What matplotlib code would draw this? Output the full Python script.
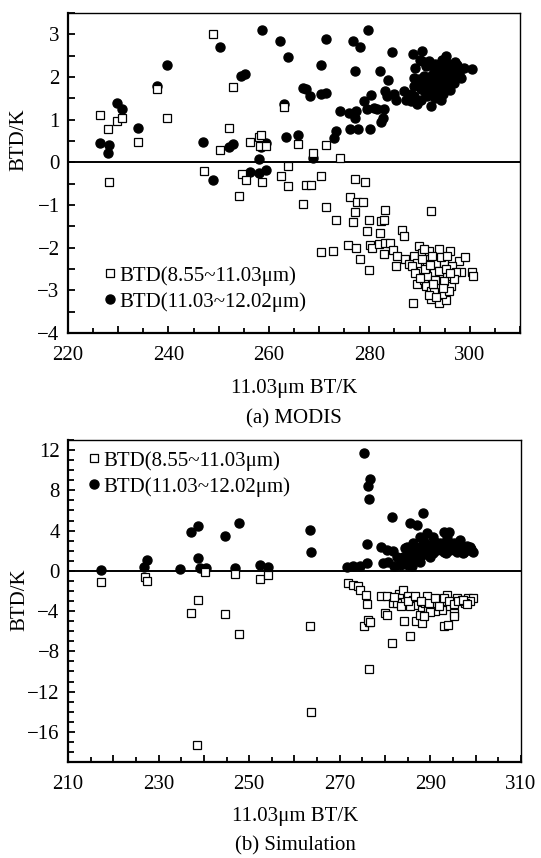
import matplotlib
matplotlib.use("Agg")
import matplotlib.pyplot as plt
from matplotlib.ticker import MultipleLocator, FuncFormatter
from matplotlib.lines import Line2D

plt.rcParams['font.family'] = ['Liberation Serif', 'DejaVu Serif']

# (a) MODIS - BTD(8.55~11.03um), squares
modis_sq_x = [248.9, 252.9, 237.7, 226.4, 228.0, 229.7, 230.7, 239.7, 233.9, 263.0, 252.0, 250.3,
              256.2, 258.1, 258.5, 258.2, 259.5, 265.7, 271.3, 268.7, 274.2,
              228.2, 247.0, 254.6, 255.4, 258.7, 254.0, 262.4, 263.8, 263.9, 267.3, 268.3, 270.4,
              277.2, 279.1, 266.7, 271.3, 276.2, 277.5, 278.7, 277.2, 283.1, 292.2, 273.4, 276.7,
              280.0, 282.4, 282.9, 279.5, 282.1, 286.5, 287.0, 275.7, 277.4, 280.2, 280.5, 281.9,
              283.1, 284.1, 282.9, 284.7, 285.5, 285.4, 270.4, 272.7, 278.2, 279.9, 288.7,
              287.1, 287.9, 288.9, 289.9, 290.5, 291.9, 293.9, 296.1, 297.9, 299.0, 298.2, 300.5,
              300.7, 289.4, 290.9, 291.2, 292.2, 292.2, 293.9, 295.2, 294.5, 296.2, 294.2, 295.5,
              292.9, 290.2, 289.5, 291.5, 293.2, 294.9, 296.5, 297.2, 291.5, 293.5, 295.9, 292.9,
              290.5, 292.5, 294.2, 295.5, 290.9, 288.5, 294.9, 296.9,
              289.0, 290.0, 291.0, 292.0, 293.0, 293.8, 294.6, 295.2, 296.0, 292.6, 291.8, 293.2]
modis_sq_y = [3.00, 1.76, 1.73, 1.12, 0.78, 0.97, 1.03, 1.03, 0.47, 1.30, 0.80, 0.28,
              0.47, 0.60, 0.65, 0.38, 0.38, 0.42, 0.40, 0.21, 0.09,
              -0.47, -0.20, -0.27, -0.41, -0.45, -0.78, -0.33, -0.09, -0.55, -0.52, -0.52, -0.32,
              -0.40, -0.46, -0.98, -1.04, -0.81, -0.94, -0.92, -1.16, -1.12, -1.15, -1.34, -1.39,
              -1.34, -1.37, -1.36, -1.61, -1.65, -1.59, -1.73, -1.94, -2.00, -1.94, -2.00, -1.92,
              -1.90, -1.88, -2.16, -2.06, -2.19, -2.43, -2.10, -2.08, -2.27, -2.52, -3.30,
              -2.27, -2.39, -2.19, -1.96, -2.12, -2.08, -2.04, -2.08, -2.31, -2.22, -2.56, -2.56,
              -2.66, -2.86, -2.76, -2.90, -3.01, -3.21, -3.30, -3.22, -3.09, -2.90, -2.78, -2.66,
              -2.58, -2.51, -2.35, -2.39, -2.35, -2.35, -2.43, -2.58, -2.66, -2.90, -3.01, -3.05,
              -2.27, -2.19, -2.23, -2.19, -2.04, -2.43, -2.78, -2.74,
              -2.60, -2.70, -2.50, -2.40, -2.75, -2.55, -2.95, -2.50, -2.60, -2.85, -3.10, -3.15]

# (a) MODIS - BTD(11.03~12.02um), filled circles
modis_ci_x = [226.3, 228.2, 228.0, 229.7, 230.7, 233.9, 237.7, 239.7, 246.9, 248.9, 250.2, 252.1,
              252.9, 254.5, 255.3, 256.2, 258.1, 259.5, 258.1, 258.5, 259.5, 258.7, 262.3, 263.8,
              263.0, 263.5, 265.7, 266.7, 267.3, 268.1, 268.7, 270.4, 270.4, 271.4, 271.3, 272.9,
              273.3, 274.1, 275.9, 276.2, 276.7, 277.1, 277.2, 277.4, 277.7, 278.2, 279.0, 279.7,
              280.1, 280.4, 282.1, 283.7, 284.5,
              279.5, 280.9, 281.5, 282.9, 282.4, 282.7, 283.1, 283.5, 284.9, 285.4, 286.9, 287.4,
              288.2, 288.9, 289.5, 290.2, 292.2, 294.2, 288.9, 288.7, 290.5, 291.9, 292.9, 294.2,
              295.3, 295.5, 297.5, 298.9, 300.5, 298.2, 296.9, 295.5, 294.2, 291.5, 290.2, 289.5,
              290.9, 292.2, 293.5, 294.9, 296.2, 292.9, 294.2, 291.2, 293.5, 294.9, 296.9, 290.5,
              288.9, 288.2, 291.5, 295.9, 292.9, 294.9,
              289.0, 290.0, 291.0, 291.5, 292.0, 292.5, 293.0, 293.5, 294.0, 294.5, 295.0, 295.8,
              296.5, 297.0, 297.8, 293.0, 291.0, 289.8, 290.7, 292.8, 294.6, 296.0]
modis_ci_y = [0.45, 0.40, 0.23, 1.40, 1.26, 0.80, 1.80, 2.28, 0.47, -0.42, 2.71, 0.35,
              0.44, 2.02, 2.08, -0.22, -0.26, -0.19, 0.08, 0.36, 0.45, 3.11, 2.85, 2.47,
              1.37, 0.59, 0.65, 1.74, 1.71, 1.55, 0.09, 2.28, 1.59, 1.63, 2.90, 0.58,
              0.73, 1.20, 1.15, 0.79, 2.84, 2.14, 1.04, 1.20, 0.77, 2.71, 1.43, 3.10,
              0.79, 1.58, 2.14, 1.93, 2.59,
              1.24, 1.28, 1.24, 1.24, 0.95, 1.04, 1.67, 1.55, 1.61, 1.47, 1.67, 1.47,
              1.43, 1.55, 1.36, 1.47, 1.32, 1.47, 1.98, 2.53, 2.61, 2.37, 2.18, 2.29,
              2.49, 2.33, 2.29, 2.22, 2.18, 1.98, 1.86, 1.71, 1.63, 1.55, 1.71, 1.86,
              2.02, 1.94, 1.94, 2.02, 2.10, 1.75, 1.83, 2.25, 2.14, 2.18, 2.14, 2.37,
              1.79, 1.59, 1.79, 1.86, 1.55, 1.79,
              2.20, 2.40, 2.00, 2.30, 1.70, 2.05, 2.30, 1.75, 2.05, 2.40, 1.90, 2.20,
              2.00, 2.35, 2.10, 1.50, 1.65, 1.95, 1.85, 1.95, 1.60, 1.70]

# (b) Simulation - BTD(8.55~11.03um), squares
sim_sq_x = [217.2, 227.0, 227.5, 240.2, 238.6, 237.1, 244.6, 247.8, 246.9, 252.3, 254.2, 263.4,
            263.6, 238.4, 275.3, 276.4, 276.5, 281.5, 285.5, 284.2, 286.8, 288.1, 293.0, 293.9,
            271.7, 273.0, 274.1, 274.5, 275.8, 276.0, 280.0, 280.4, 276.3, 276.7,
            279.2, 280.4, 281.8, 283.0, 284.0, 285.1, 286.2, 287.0, 288.1, 288.8, 289.5, 290.3,
            291.4, 292.5, 293.2, 294.3, 295.1, 295.8, 296.9, 298.4, 299.5, 298.7, 287.7, 295.1,
            291.0, 285.5, 293.6, 289.2, 282.6, 297.6,
            282.0, 283.5, 285.0, 286.5, 288.0, 289.8, 291.0, 292.0, 293.0, 294.0, 295.2, 296.2,
            297.2, 298.0, 290.0, 288.5]
sim_sq_y = [-1.16, -0.63, -0.99, -0.07, -2.9, -4.22, -4.29, -6.27, -0.30, -0.79, -0.43, -5.45,
            -14.0, -17.3, -5.45, -5.12, -9.8, -7.16, -6.5, -5.0, -5.0, -5.2, -5.45, -5.35,
            -1.22, -1.39, -1.49, -1.88, -2.38, -3.27, -4.19, -4.36, -4.85, -5.12,
            -2.54, -2.48, -3.2, -2.28, -1.88, -2.54, -2.87, -3.37, -3.86, -3.2, -3.7, -2.87,
            -3.37, -3.86, -3.04, -3.53, -4.19, -2.71, -2.87, -2.71, -2.71, -3.04, -4.36, -4.52,
            -4.03, -3.47, -2.38, -2.54, -3.2, -3.2,
            -2.6, -3.5, -3.0, -2.5, -3.0, -3.2, -2.7, -3.5, -2.7, -3.0, -3.3, -3.0,
            -2.9, -3.3, -4.1, -4.5]

# (b) Simulation - BTD(11.03~12.02um), filled circles
sim_ci_x = [217.2, 226.8, 227.5, 234.7, 237.1, 238.6, 238.6, 239.1, 240.4, 244.6, 246.9, 247.8,
            252.3, 254.2, 263.4, 263.6, 275.3, 276.7, 276.3, 276.5, 281.5, 288.3, 285.5, 287.0,
            276.0, 271.5, 273.0, 274.5, 276.0, 279.2, 280.4, 281.8, 279.6, 280.7, 283.3, 284.0,
            284.4, 282.6, 286.2, 287.7, 289.2, 292.9, 294.2, 296.5, 298.7, 299.5,
            284.8, 285.5, 286.6, 287.7, 288.8, 289.9, 291.0, 292.1, 293.6, 295.1, 296.2, 297.6,
            298.7, 286.2, 288.1, 289.5, 291.4, 292.9, 294.3, 295.8, 297.3, 287.7, 285.1, 289.2,
            292.1, 295.1, 290.6, 293.6, 288.4, 284.8,
            285.5, 286.5, 287.5, 288.5, 289.5, 290.5, 291.5, 292.5, 293.5, 294.5, 295.5, 296.5,
            297.5, 298.0, 290.0, 288.0, 291.0, 293.0, 296.0, 299.0, 284.0, 282.0, 286.0]
sim_ci_y = [0.1, 0.33, 1.09, 0.20, 3.89, 4.48, 1.25, 0.26, 0.26, 3.46, 0.26, 4.75,
            0.59, 0.33, 4.1, 1.91, 11.75, 9.08, 8.41, 7.13, 5.38, 5.71, 4.78, 4.55,
            2.67, 0.36, 0.43, 0.49, 0.76, 2.41, 2.08, 2.01, 0.76, 0.92, 0.59, 1.42,
            2.25, 1.42, 2.74, 3.40, 3.73, 3.89, 3.89, 3.07, 2.41, 1.91,
            1.09, 1.75, 2.08, 2.41, 2.74, 2.57, 2.90, 2.74, 2.57, 2.74, 2.57, 2.24,
            2.08, 1.25, 1.58, 1.75, 2.08, 1.91, 2.08, 1.91, 1.75, 0.92, 0.59, 2.24,
            2.24, 2.24, 3.40, 3.23, 3.07, 2.41,
            0.9, 1.6, 1.3, 1.9, 2.1, 1.8, 2.5, 2.1, 1.8, 2.4, 2.1, 2.2,
            1.9, 2.5, 1.4, 2.2, 2.3, 2.6, 2.4, 2.2, 0.7, 0.5, 0.5]

label_sq = 'BTD(8.55~11.03\u03bcm)'
label_ci = 'BTD(11.03~12.02\u03bcm)'
fs = 15

W, H = 541, 858
fig = plt.figure(figsize=(W / 100, H / 100), dpi=100)


def px_box(left, top, right, bottom):
    return [left / W, 1 - bottom / H, (right - left) / W, (bottom - top) / H]


def draw_panel(ax, sq_x, sq_y, ci_x, ci_y):
    ax.plot(ci_x, ci_y, 'o', ms=6.5, color='black', mec='black', zorder=3)
    ax.plot(sq_x, sq_y, 's', ms=5.2, mfc='white', mec='black', mew=0.9, zorder=4)
    ax.axhline(0, color='black', lw=1.4, zorder=2)
    for side in ['left', 'bottom']:
        ax.spines[side].set_linewidth(1.6)
    for side in ['top', 'right']:
        ax.spines[side].set_linewidth(1.0)
    ax.tick_params(which='both', direction='in', top=False, right=False,
                   labelsize=fs, width=1.3)
    ax.tick_params(which='major', length=5)
    ax.tick_params(which='minor', length=3.5)
    ax.xaxis.set_tick_params(which='major', pad=9.5)
    ax.yaxis.set_tick_params(which='major', pad=6)


# top panel (a) MODIS
ax1 = fig.add_axes(px_box(68, 13, 520, 333))
draw_panel(ax1, modis_sq_x, modis_sq_y, modis_ci_x, modis_ci_y)
ax1.set_xlim(220, 310)
ax1.set_ylim(-4, 3.5)
ax1.xaxis.set_major_locator(MultipleLocator(10))
ax1.xaxis.set_minor_locator(MultipleLocator(5))
ax1.xaxis.set_major_formatter(FuncFormatter(lambda v, p: '%d' % v if round(v) % 20 == 0 else ''))
ax1.yaxis.set_major_locator(MultipleLocator(1))
ax1.yaxis.set_minor_locator(MultipleLocator(0.5))
ax1.yaxis.set_major_formatter(FuncFormatter(lambda v, p: ('%d' % v).replace('-', '\u2212')))
ax1.yaxis.set_tick_params(which='minor', length=5)

# bottom panel (b) Simulation
ax2 = fig.add_axes(px_box(68, 440, 521, 762))
draw_panel(ax2, sim_sq_x, sim_sq_y, sim_ci_x, sim_ci_y)
ax2.set_xlim(210, 310)
ax2.set_ylim(-19, 13)
ax2.xaxis.set_major_locator(MultipleLocator(10))
ax2.xaxis.set_minor_locator(MultipleLocator(5))
ax2.xaxis.set_major_formatter(FuncFormatter(lambda v, p: '%d' % v if round(v - 210) % 20 == 0 else ''))
ax2.yaxis.set_major_locator(MultipleLocator(4))
ax2.yaxis.set_minor_locator(MultipleLocator(1))
ax2.yaxis.set_major_formatter(FuncFormatter(lambda v, p: ('%d' % v).replace('-', '\u2212')))
ax2.yaxis.set_tick_params(which='minor', length=4)

# legends
handles = [Line2D([], [], ls='none', marker='s', ms=5.2, mfc='white', mec='black', mew=0.9),
           Line2D([], [], ls='none', marker='o', ms=6.5, color='black')]
for ax, (lx, ly) in [(ax1, (104, 266)), (ax2, (88, 451))]:
    ax.legend(handles, [label_sq, label_ci], loc='upper left',
              bbox_to_anchor=(lx / W, 1 - ly / H), bbox_transform=fig.transFigure,
              frameon=False, fontsize=fs, handlelength=0.6, handletextpad=0.12,
              borderpad=0, borderaxespad=0, labelspacing=0.3)

# axis labels and captions
fig.text(294 / W, 1 - 388 / H, '11.03\u03bcm BT/K', ha='center', va='center', fontsize=fs)
fig.text(294 / W, 1 - 419 / H, '(a) MODIS', ha='center', va='center', fontsize=fs)
fig.text(295 / W, 1 - 816 / H, '11.03\u03bcm BT/K', ha='center', va='center', fontsize=fs)
fig.text(295 / W, 1 - 846 / H, '(b) Simulation', ha='center', va='center', fontsize=fs)
fig.text(19 / W, 1 - 140 / H, 'BTD/K', ha='center', va='center', rotation=90, fontsize=fs)
fig.text(20 / W, 1 - 600 / H, 'BTD/K', ha='center', va='center', rotation=90, fontsize=fs)

fig.savefig('out.png', dpi=100)
